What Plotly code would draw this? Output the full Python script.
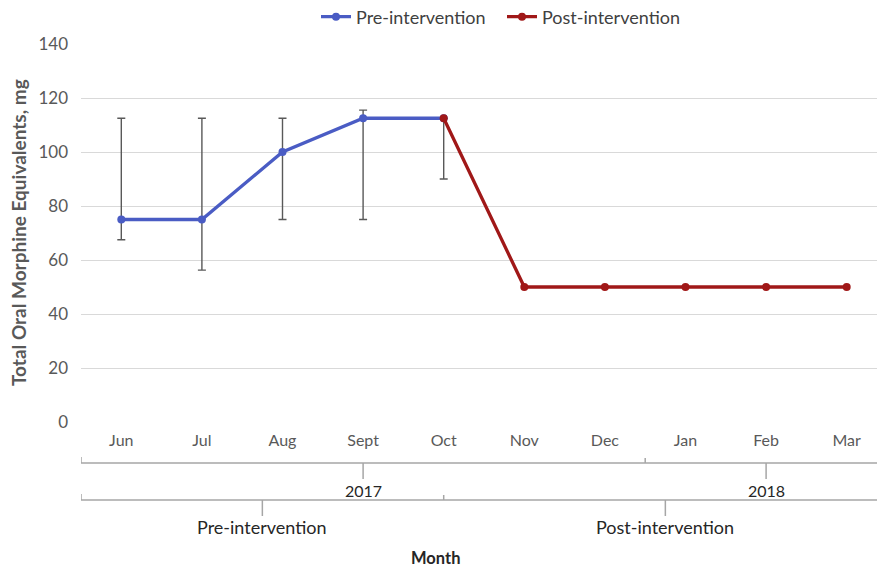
import plotly.graph_objects as go

# ---- data ----
months = ["Jun", "Jul", "Aug", "Sept", "Oct", "Nov", "Dec", "Jan", "Feb", "Mar"]
years = ["2017", "2018"]
phases = ["Pre-intervention", "Post-intervention"]

pre_idx = [0, 1, 2, 3, 4]
pre_vals = [75, 75, 100, 112.5, 112.5]
pre_err_plus = [37.5, 37.5, 12.5, 3, 0]
pre_err_minus = [7.5, 18.75, 25, 37.5, 22.5]

post_idx = [4, 5, 6, 7, 8, 9]
post_vals = [112.5, 50, 50, 50, 50, 50]

BLUE = "#4a5cc4"
RED = "#a01818"
GRAY_TXT = "#595959"
DARK_TXT = "#262626"
BRACKET = "#a6a6a6"
FONT = "Lato"

W, H = 878, 569
M_L, M_R, M_T, M_B = 81, 1, 44, 147
plot_h = H - M_T - M_B
plot_w = W - M_L - M_R

def py(pix):
    """convert pixel y (from top) to paper coordinate"""
    return (H - M_B - pix) / plot_h

def px(pix):
    return (pix - M_L) / plot_w

fig = go.Figure()
fig.add_trace(go.Scatter(
    x=pre_idx, y=pre_vals, mode="lines+markers", name="Pre-intervention",
    line=dict(color=BLUE, width=3.3), marker=dict(color=BLUE, size=8),
    error_y=dict(type="data", symmetric=False, array=pre_err_plus,
                 arrayminus=pre_err_minus, color=GRAY_TXT, thickness=1.4, width=4),
))
fig.add_trace(go.Scatter(
    x=post_idx, y=post_vals, mode="lines+markers", name="Post-intervention",
    line=dict(color=RED, width=3.3), marker=dict(color=RED, size=8),
))

shapes = []
def seg(x0, x1, y0, y1):
    shapes.append(dict(type="line", xref="x", yref="paper", x0=x0, x1=x1,
                       y0=py(y0), y1=py(y1), line=dict(color=BRACKET, width=1.5)))

# level 1 (years)
L1 = 463
seg(-0.5, 9.6, L1, L1)
seg(-0.5, -0.5, L1 - 6, L1)
seg(6.5, 6.5, L1 - 5, L1)
year_pos = [3, 8]
for xp in year_pos:
    seg(xp, xp, L1, L1 + 16)
# level 2 (phases)
L2 = 500
seg(-0.5, 9.6, L2, L2)
seg(-0.5, -0.5, L2 - 6, L2)
seg(4, 4, L2 - 5, L2)
phase_pos = [1.75, 6.75]
for xp in phase_pos:
    seg(xp, xp, L2, L2 + 16)

annotations = []
for xp, t in zip(year_pos, years):
    annotations.append(dict(x=xp, y=py(490), xref="x", yref="paper", text=t,
                            xanchor="center", yanchor="middle",
                            showarrow=False, font=dict(family=FONT, size=16, color=DARK_TXT)))
for xp, t in zip(phase_pos, phases):
    annotations.append(dict(x=xp, y=py(527), xref="x", yref="paper", text=t,
                            xanchor="center", yanchor="middle",
                            showarrow=False, font=dict(family=FONT, size=18, color=DARK_TXT)))
annotations.append(dict(x=px(435), y=py(558), xref="paper", yref="paper",
                        xanchor="center", yanchor="middle",
                        text="<b>Month</b>", showarrow=False,
                        font=dict(family=FONT, size=16.5, color=DARK_TXT)))
annotations.append(dict(x=px(18), y=py(233), xref="paper", yref="paper",
                        xanchor="center", yanchor="middle",
                        text="<b>Total Oral Morphine Equivalents, mg</b>", showarrow=False,
                        textangle=-90, font=dict(family=FONT, size=19, color=GRAY_TXT)))

fig.update_layout(
    width=W, height=H,
    margin=dict(l=M_L, r=M_R, t=M_T, b=M_B, autoexpand=False),
    paper_bgcolor="white", plot_bgcolor="white",
    font=dict(family=FONT, size=14, color=GRAY_TXT),
    showlegend=True,
    legend=dict(orientation="h", x=px(316), xanchor="left",
                yref="container", y=1 - 17 / H, yanchor="middle",
                font=dict(family=FONT, size=18, color="#404040"),
                entrywidth=141, entrywidthmode="pixels", bgcolor="rgba(0,0,0,0)"),
    xaxis=dict(range=[-0.5, plot_w / 80.6 - 0.5], tickmode="array",
               tickvals=list(range(len(months))), ticktext=months,
               showgrid=False, zeroline=False, showline=False, ticks="", automargin=False,
               tickfont=dict(family=FONT, size=16, color=GRAY_TXT), ticklabelstandoff=7),
    yaxis=dict(range=[0, 140], dtick=20, showgrid=True, gridcolor="#d9d9d9", gridwidth=1.2,
               zeroline=False, showline=False, ticks="", automargin=False,
               tickfont=dict(family=FONT, size=17, color=GRAY_TXT), ticklabelstandoff=12),
    shapes=shapes, annotations=annotations,
)

fig.write_html("out.html", config={"displayModeBar": False},
               post_script="document.body.style.margin='0';document.body.style.overflow='hidden';")
